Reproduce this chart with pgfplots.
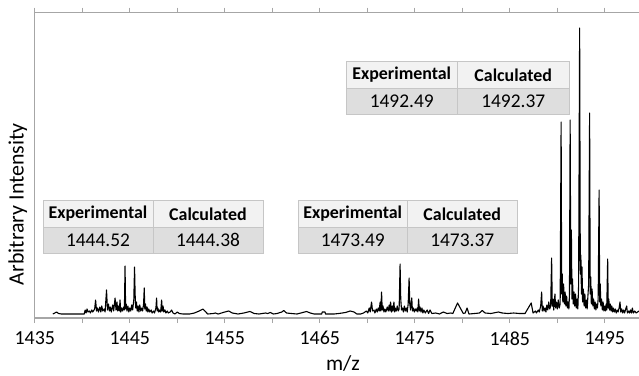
\documentclass[border=0pt]{standalone}
\usepackage{fontspec}
\setmainfont{Carlito}
\usepackage{pgfplots}
\pgfplotsset{compat=1.18}
\definecolor{framegray}{HTML}{A6A6A6}
\definecolor{hdrfill}{HTML}{F2F2F2}
\definecolor{rowfill}{HTML}{DEDEDE}
\definecolor{cellline}{HTML}{C6C6C6}

% result table: #1 left, #2 right, #3 top edge, #4 experimental, #5 calculated
\newcommand{\masstable}[5]{%
  \pgfmathsetmacro{\tmid}{(#1+#2)/2}%
  \pgfmathsetmacro{\tsplit}{#3-26.3}%
  \pgfmathsetmacro{\tbot}{#3-52.6}%
  \fill[hdrfill] (#1,\tsplit) rectangle (#2,#3);
  \fill[rowfill] (#1,\tbot) rectangle (#2,\tsplit);
  \draw[cellline, line width=0.8] (#1,\tbot) rectangle (#2,#3)
    (#1,\tsplit) -- (#2,\tsplit) (\tmid,\tbot) -- (\tmid,#3);
  \pgfmathsetmacro{\cA}{(#1+\tmid)/2}%
  \pgfmathsetmacro{\cB}{(\tmid+#2)/2}%
  \pgfmathsetmacro{\yA}{#3-13.15}%
  \pgfmathsetmacro{\yB}{#3-39.45}%
  \node[font=\bfseries\fontsize{18}{21}\selectfont] at (\cA,\yA) {Experimental};
  \node[font=\bfseries\fontsize{18}{21}\selectfont] at (\cB,\yA) {Calculated};
  \node[font=\fontsize{19.5}{22}\selectfont] at (\cA,\yB) {#4};
  \node[font=\fontsize{19.5}{22}\selectfont] at (\cB,\yB) {#5};
}

\begin{document}
\begin{tikzpicture}[x=1bp,y=1bp]
\begin{axis}[
  at={(34.8bp,57bp)}, anchor=south west,
  scale only axis, width=604.2bp, height=305.3bp,
  xmin=1435, xmax=1498.6, ymin=-4, ymax=301.3,
  axis line style={draw=none},
  ytick=\empty,
  xtick={1435,1445,...,1495},
  minor xtick={1440,1450,...,1490},
  tick align=outside, major tick length=5bp, minor tick length=5bp,
  every tick/.style={framegray, line width=0.8bp},
  /pgf/number format/assume math mode=true,
  /pgf/number format/1000 sep={},
  x tick label style={font=\fontsize{20}{23}\selectfont, yshift=-5bp},
  every axis x label/.style={at={(rel axis cs:0.51,0)}, anchor=center, yshift=-46bp, font=\fontsize{21.5}{24}\selectfont},
  every axis y label/.style={at={(rel axis cs:0,0.373)}, xshift=-17bp, anchor=center, rotate=90, font=\fontsize{22}{25}\selectfont},
  xlabel={m/z},
  ylabel={Arbitrary Intensity},
  clip mode=individual,
]
\addplot[black, line width=1.1bp, line join=round] table {
x y
1436.9 0
1437.1 1
1437.3 2
1437.5 0.5
1437.8 0
1440.2 0
1440.3 4
1440.4 1
1440.5 5
1440.6 2
1440.75 3
1440.85 1
1441.0 4
1441.1 2
1441.3 5
1441.4 14
1441.5 3
1441.6 6
1441.7 2
1441.85 7
1441.95 2
1442.05 8
1442.15 3
1442.3 5
1442.4 2
1442.55 24
1442.65 4
1442.75 10
1442.85 3
1442.95 7
1443.05 2
1443.2 9
1443.3 3
1443.45 16
1443.55 4
1443.65 12
1443.72 3
1443.82 8
1443.9 3
1443.97 14
1444.05 2
1444.15 6
1444.25 3
1444.35 7
1444.43 4
1444.5 48
1444.56 5
1444.62 10
1444.7 3
1444.8 8
1444.9 2
1445.0 6
1445.1 3
1445.2 9
1445.3 4
1445.42 14
1445.5 47
1445.56 20
1445.62 6
1445.7 12
1445.78 3
1445.88 8
1445.96 2
1446.05 9
1446.15 3
1446.25 6
1446.35 3
1446.45 10
1446.52 26
1446.58 5
1446.65 10
1446.73 3
1446.82 7
1446.9 2
1447.0 5
1447.1 2
1447.25 4
1447.35 1
1447.5 3
1447.6 1
1447.75 6
1447.82 16
1447.88 3
1447.95 6
1448.05 2
1448.15 4
1448.25 2
1448.35 14
1448.42 3
1448.5 8
1448.58 2
1448.7 4
1448.8 1
1448.95 3
1449.05 1
1449.25 2
1449.4 4
1449.55 1
1449.75 0
1450.0 2
1450.2 0.5
1450.6 0
1451.3 0
1451.8 1
1452.3 3
1452.7 5
1453.0 2
1453.2 0
1453.8 0.5
1454.0 1
1454.3 0
1455.0 2
1455.4 3
1455.8 1
1456.4 0
1457.0 1
1457.65 2.5
1458.1 0.5
1458.6 0
1459.3 1
1459.5 0.5
1459.8 1.5
1460.1 0
1460.5 0.5
1461.0 2
1461.2 3.5
1461.5 1
1462.0 0.5
1462.6 0
1463.2 1.5
1463.6 2.5
1464.0 1
1464.4 0
1465.2 0
1465.25 2
1465.55 2
1465.6 0
1466.5 0
1467.0 0.5
1467.7 1.5
1468.2 3
1468.6 2
1468.9 0
1469.3 0
1469.6 1
1469.9 3
1470.05 1
1470.2 6
1470.3 2
1470.45 12
1470.55 3
1470.7 4
1470.8 1
1470.95 5
1471.05 2
1471.15 6
1471.25 3
1471.35 12
1471.42 3
1471.5 22
1471.57 4
1471.65 8
1471.75 2
1471.85 5
1471.95 2
1472.1 7
1472.2 3
1472.3 9
1472.38 3
1472.45 12
1472.55 2
1472.62 8
1472.7 3
1472.8 12
1472.88 2
1472.95 6
1473.05 3
1473.15 8
1473.25 3
1473.35 5
1473.45 50
1473.52 15
1473.6 4
1473.7 6
1473.8 2
1473.9 8
1474.0 3
1474.1 6
1474.2 2
1474.3 10
1474.4 36
1474.47 10
1474.55 4
1474.68 16
1474.75 3
1474.85 6
1474.95 2
1475.05 5
1475.15 3
1475.25 6
1475.32 2
1475.4 15
1475.48 3
1475.55 7
1475.65 2
1475.75 6
1475.85 1
1475.95 4
1476.1 1
1476.3 4
1476.45 0.5
1476.6 4
1476.8 0.5
1477.2 1
1477.6 0
1478.0 2
1478.4 0.5
1478.8 1
1479.0 0.5
1479.5 11
1480.1 0.5
1480.3 1
1480.5 6
1480.7 0
1481.3 0.5
1481.8 1
1482.1 3.5
1482.4 1
1483.0 0.5
1483.8 2
1484.2 1
1484.8 0.5
1485.4 1
1486.0 0.5
1486.6 0.5
1487.25 11
1487.45 1
1487.7 3
1487.8 1
1488.0 4
1488.1 2
1488.25 8
1488.35 22
1488.42 3
1488.5 8
1488.6 3
1488.7 6
1488.8 2
1488.9 9
1489.0 4
1489.1 12
1489.2 5
1489.3 8
1489.4 56
1489.47 8
1489.55 15
1489.62 4
1489.75 20
1489.82 6
1489.9 12
1490.0 5
1490.1 14
1490.2 6
1490.3 10
1490.4 192
1490.46 20
1490.52 40
1490.58 12
1490.66 30
1490.74 10
1490.82 22
1490.9 8
1490.98 18
1491.06 6
1491.14 12
1491.22 5
1491.28 20
1491.35 194
1491.42 30
1491.48 84
1491.54 15
1491.6 35
1491.68 10
1491.76 22
1491.84 8
1491.92 20
1492.0 6
1492.08 15
1492.16 5
1492.24 28
1492.35 286
1492.42 40
1492.48 59
1492.54 20
1492.6 47
1492.66 12
1492.74 25
1492.82 8
1492.9 20
1492.98 6
1493.06 14
1493.14 5
1493.22 18
1493.3 30
1493.4 201
1493.46 20
1493.52 37
1493.58 10
1493.66 25
1493.74 8
1493.82 15
1493.9 5
1493.98 12
1494.06 4
1494.14 10
1494.22 6
1494.3 15
1494.4 124
1494.46 12
1494.52 30
1494.58 8
1494.66 15
1494.74 4
1494.82 12
1494.9 3
1494.98 8
1495.06 3
1495.14 10
1495.2 4
1495.3 55
1495.36 6
1495.42 15
1495.5 4
1495.58 10
1495.66 3
1495.74 8
1495.82 2
1495.9 6
1496.0 2
1496.1 5
1496.2 1
1496.3 4
1496.4 2
1496.5 6
1496.6 12
1496.68 2
1496.78 5
1496.88 1
1496.98 4
1497.08 1
1497.2 5
1497.3 8
1497.38 1
1497.5 3
1497.6 1
1497.7 4
1497.8 1
1497.9 6
1498.0 1
1498.15 3
1498.3 1
1498.45 2
1498.6 3
};
% plot frame: left, top and bottom edges only
\draw[framegray, line width=1.2bp] (rel axis cs:0,0) -- (rel axis cs:0,1) -- (rel axis cs:1,1);
\draw[framegray, line width=1.2bp] (rel axis cs:0,0) -- (rel axis cs:1,0);
\end{axis}
\masstable{43}{263}{174.3}{1444.52}{1444.38}
\masstable{298}{517}{174.3}{1473.49}{1473.37}
\masstable{346}{569}{313.3}{1492.49}{1492.37}
\pgfresetboundingbox
\path (0,0) rectangle (639,375);
\end{tikzpicture}
\end{document}
